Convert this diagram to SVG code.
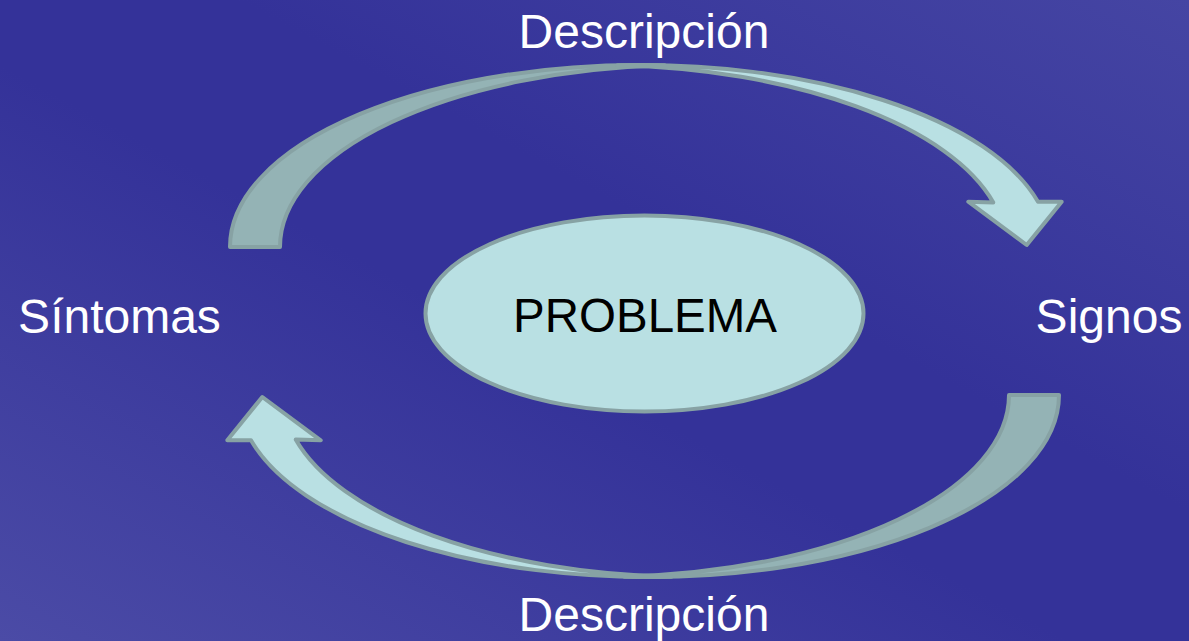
<svg xmlns="http://www.w3.org/2000/svg" width="1189" height="641" viewBox="0 0 1189 641">
  <defs>
    <linearGradient id="bg" x1="0" y1="1" x2="1" y2="0">
      <stop offset="0" stop-color="#4b4ba6"/>
      <stop offset="0.45" stop-color="#343299"/>
      <stop offset="0.6" stop-color="#343299"/>
      <stop offset="1" stop-color="#4545a3"/>
    </linearGradient>
    <g id="arrow">
      <path class="back" d="M 230 247 A 409.6 182 0 0 1 664.6 65.34 A 409.6 182 0 0 0 280 247 Z"/>
      <path class="front" d="M 617.6 65.3 A 409.6 182 0 0 1 1038 201.7 L 1061.7 201.7 L 1026.7 245 L 968.3 201.7 L 993.3 202.4 A 409.6 182 0 0 0 617.6 65.3 Z"/>
    </g>
  </defs>
  <style>
    .back { fill: #94b3b5; stroke: #87a2a4; stroke-width: 4; stroke-linejoin: round; }
    .front { fill: #b9e0e3; stroke: #87a2a4; stroke-width: 4; stroke-linejoin: round; }
    .lbl { font-family: "Liberation Sans", Arial, sans-serif; font-size: 48px; fill: #ffffff; text-anchor: middle; }
    .node-fill { fill: #b9e0e3; stroke: #87a2a4; stroke-width: 4; }
    .node-text { font-family: "Liberation Sans", Arial, sans-serif; font-size: 47.5px; fill: #000000; text-anchor: middle; }
  </style>
  <rect width="1189" height="641" fill="url(#bg)"/>
  <g id="connectors">
    <use href="#arrow"/>
    <use href="#arrow" transform="rotate(180 644.5 321)"/>
  </g>
  <g id="problema">
    <ellipse class="node-fill" cx="644.5" cy="313.5" rx="219" ry="98"/>
    <text class="node-text" x="645" y="332">PROBLEMA</text>
  </g>
  <g id="sintomas">
    <text class="lbl" x="119.5" y="333">Síntomas</text>
  </g>
  <g id="signos">
    <text class="lbl" x="1109" y="333">Signos</text>
  </g>
  <g id="desc-top">
    <text class="lbl" x="644" y="48">Descripción</text>
  </g>
  <g id="desc-bottom">
    <text class="lbl" x="644" y="631">Descripción</text>
  </g>
</svg>
